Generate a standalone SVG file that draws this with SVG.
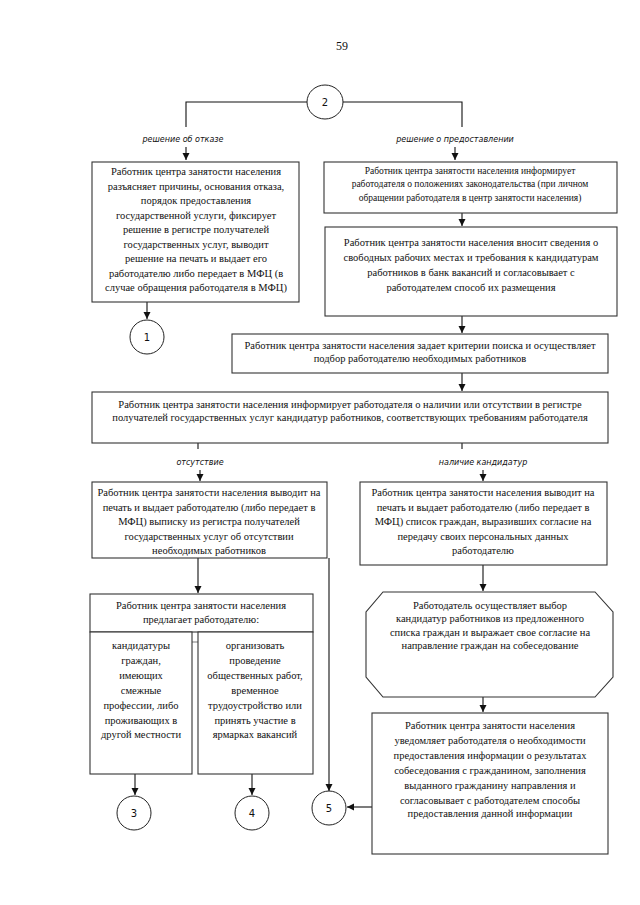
<svg xmlns="http://www.w3.org/2000/svg" width="640" height="905" viewBox="0 0 640 905">
<style>
.bx{fill:#fff;stroke:#333;stroke-width:1.1}
.ci{fill:#fff;stroke:#222;stroke-width:1}
.t{font-family:"Liberation Serif","Times New Roman",serif;font-size:10.5px;fill:#111;text-anchor:middle}
.ts{font-family:"Liberation Serif","Times New Roman",serif;font-size:9.5px;fill:#111;text-anchor:middle}
.lb{font-family:"DejaVu Sans",sans-serif;font-style:italic;font-size:8px;fill:#111;text-anchor:middle}
.n{font-family:"DejaVu Sans",sans-serif;font-size:10px;fill:#111;text-anchor:middle}
.c{fill:none;stroke:#111;stroke-width:1.1}
.g{fill:none;stroke:#888;stroke-width:1.1}
</style>
<defs>
<marker id="ah" markerWidth="8" markerHeight="8" refX="7" refY="4" orient="auto" markerUnits="userSpaceOnUse">
<path d="M0,0.5 L7,4 L0,7.5 Z" fill="#111"/>
</marker>
</defs>
<rect width="640" height="905" fill="#fff"/>
<text x="342" y="50" font-family="Liberation Serif,serif" font-size="12" text-anchor="middle" fill="#111">59</text>

<g id="connectors">
<path class="c" d="M307,102 H186 V127"/>
<path class="c" d="M342,102 H462 V127"/>
<path class="c" d="M186,147 V160" marker-end="url(#ah)"/>
<path class="c" d="M455,147 V160" marker-end="url(#ah)"/>
<path class="c" d="M147,302 V319" marker-end="url(#ah)"/>
<path class="c" d="M462,213 V226" marker-end="url(#ah)"/>
<path class="c" d="M462,316 V333" marker-end="url(#ah)"/>
<path class="c" d="M462,373 V391" marker-end="url(#ah)"/>
<path class="c" d="M198,443 V449"/>
<path class="c" d="M462,443 V449"/>
<path class="c" d="M200,470 V481" marker-end="url(#ah)"/>
<path class="c" d="M483,470 V481" marker-end="url(#ah)"/>
<path class="c" d="M198,558 V593" marker-end="url(#ah)"/>
<path class="c" d="M329,558 V791" marker-end="url(#ah)"/>
<path class="c" d="M483,565 V591" marker-end="url(#ah)"/>
<path class="c" d="M483,697 V712" marker-end="url(#ah)"/>
<path class="c" d="M372,807 H347" marker-end="url(#ah)"/>
<path class="c" d="M135,774 V795" marker-end="url(#ah)"/>
<path class="c" d="M252,774 V795" marker-end="url(#ah)"/>
<path class="g" d="M192,642 H198"/>
</g>

<g id="n2"><ellipse class="ci" cx="325" cy="102" rx="18" ry="17"/><text class="n" x="325" y="106">2</text></g>
<g id="lbl-otkaz"><text class="lb" x="183" y="142">решение об отказе</text></g>
<g id="lbl-predost"><text class="lb" x="455" y="142">решение о предоставлении</text></g>

<g id="box-otkaz">
<rect class="bx" x="92" y="162" width="207" height="140"/>
<text class="t" x="196" y="175">Работник центра занятости населения</text>
<text class="t" x="196" y="189.5">разъясняет причины, основания отказа,</text>
<text class="t" x="196" y="204">порядок предоставления</text>
<text class="t" x="196" y="218.5">государственной услуги, фиксирует</text>
<text class="t" x="196" y="233">решение в регистре получателей</text>
<text class="t" x="196" y="247.5">государственных услуг, выводит</text>
<text class="t" x="196" y="262">решение на печать и выдает его</text>
<text class="t" x="196" y="276.5">работодателю либо передает в МФЦ (в</text>
<text class="t" x="196" y="291">случае обращения работодателя в МФЦ)</text>
</g>
<g id="n1"><ellipse class="ci" cx="147" cy="337" rx="17" ry="17"/><text class="n" x="147" y="341">1</text></g>

<g id="box-inform">
<rect class="bx" x="324" y="162" width="293" height="51"/>
<text class="ts" x="470" y="173.5">Работник центра занятости населения информирует</text>
<text class="ts" x="470" y="187">работодателя о положениях законодательства (при личном</text>
<text class="ts" x="470" y="200.5">обращении работодателя в центр занятости населения)</text>
</g>

<g id="box-vnosit">
<rect class="bx" x="325" y="227" width="292" height="89"/>
<text class="t" x="471" y="245.5">Работник центра занятости населения вносит сведения о</text>
<text class="t" x="471" y="260.5">свободных рабочих местах и требования к кандидатурам</text>
<text class="t" x="471" y="275.5">работников в банк вакансий и согласовывает с</text>
<text class="t" x="471" y="290.5">работодателем способ их размещения</text>
</g>

<g id="box-kriterii">
<rect class="bx" x="232" y="334" width="376" height="39"/>
<text class="t" x="420" y="349">Работник центра занятости населения задает критерии поиска и осуществляет</text>
<text class="t" x="420" y="362">подбор работодателю необходимых работников</text>
</g>

<g id="box-nalichie">
<rect class="bx" x="92" y="392" width="516" height="51"/>
<text class="t" x="350" y="408">Работник центра занятости населения информирует работодателя о наличии или отсутствии в регистре</text>
<text class="t" x="350" y="421">получателей государственных услуг кандидатур работников, соответствующих требованиям работодателя</text>
</g>

<g id="lbl-ots"><text class="lb" x="200" y="465">отсутствие</text></g>
<g id="lbl-nal"><text class="lb" x="483" y="465">наличие кандидатур</text></g>

<g id="box-vypiska">
<rect class="bx" x="92" y="482" width="235" height="76"/>
<text class="t" x="209" y="496">Работник центра занятости населения выводит на</text>
<text class="t" x="209" y="510.5">печать и выдает работодателю (либо передает в</text>
<text class="t" x="209" y="525">МФЦ) выписку из регистра получателей</text>
<text class="t" x="209" y="539.5">государственных услуг об отсутствии</text>
<text class="t" x="209" y="554">необходимых работников</text>
</g>

<g id="box-spisok">
<rect class="bx" x="360" y="482" width="247" height="83"/>
<text class="t" x="483" y="496">Работник центра занятости населения выводит на</text>
<text class="t" x="483" y="510.5">печать и выдает работодателю (либо передает в</text>
<text class="t" x="483" y="525">МФЦ) список граждан, выразивших согласие на</text>
<text class="t" x="483" y="539.5">передачу своих персональных данных</text>
<text class="t" x="483" y="554">работодателю</text>
</g>

<g id="box-predlagaet">
<rect class="bx" x="90" y="594" width="223" height="38"/>
<text class="t" x="201" y="608.5">Работник центра занятости населения</text>
<text class="t" x="201" y="623">предлагает работодателю:</text>
</g>
<g id="box-kandidatury">
<rect class="bx" x="90" y="632" width="102" height="142"/>
<text class="t" x="141" y="649">кандидатуры</text>
<text class="t" x="141" y="664">граждан,</text>
<text class="t" x="141" y="679">имеющих</text>
<text class="t" x="141" y="694">смежные</text>
<text class="t" x="141" y="709">профессии, либо</text>
<text class="t" x="141" y="724">проживающих в</text>
<text class="t" x="141" y="738">другой местности</text>
</g>
<g id="box-organizovat">
<rect class="bx" x="198" y="632" width="115" height="142"/>
<text class="t" x="255" y="649">организовать</text>
<text class="t" x="255" y="664">проведение</text>
<text class="t" x="255" y="679">общественных работ,</text>
<text class="t" x="255" y="694">временное</text>
<text class="t" x="255" y="709">трудоустройство или</text>
<text class="t" x="255" y="724">принять участие в</text>
<text class="t" x="255" y="738">ярмарках вакансий</text>
</g>

<g id="box-vybor">
<polygon class="bx" points="383,592 595,592 613,612 613,677 595,697 383,697 366,677 366,612"/>
<text class="t" x="490" y="609">Работодатель осуществляет выбор</text>
<text class="t" x="490" y="622">кандидатур работников из предложенного</text>
<text class="t" x="490" y="635.5">списка граждан и выражает свое согласие на</text>
<text class="t" x="490" y="649">направление граждан на собеседование</text>
</g>

<g id="box-uvedomlyaet">
<rect class="bx" x="372" y="713" width="236" height="141"/>
<text class="t" x="490" y="728.5">Работник центра занятости населения</text>
<text class="t" x="490" y="743.5">уведомляет работодателя о необходимости</text>
<text class="t" x="490" y="758.5">предоставления информации о результатах</text>
<text class="t" x="490" y="773.5">собеседования с гражданином, заполнения</text>
<text class="t" x="490" y="788.5">выданного гражданину направления и</text>
<text class="t" x="490" y="803.5">согласовывает с работодателем способы</text>
<text class="t" x="490" y="817">предоставления данной информации</text>
</g>

<g id="n3"><ellipse class="ci" cx="134" cy="813" rx="17" ry="17"/><text class="n" x="134" y="817">3</text></g>
<g id="n4"><ellipse class="ci" cx="252" cy="813" rx="17" ry="17"/><text class="n" x="252" y="817">4</text></g>
<g id="n5"><ellipse class="ci" cx="329" cy="808" rx="17" ry="17"/><text class="n" x="329" y="812">5</text></g>
</svg>
